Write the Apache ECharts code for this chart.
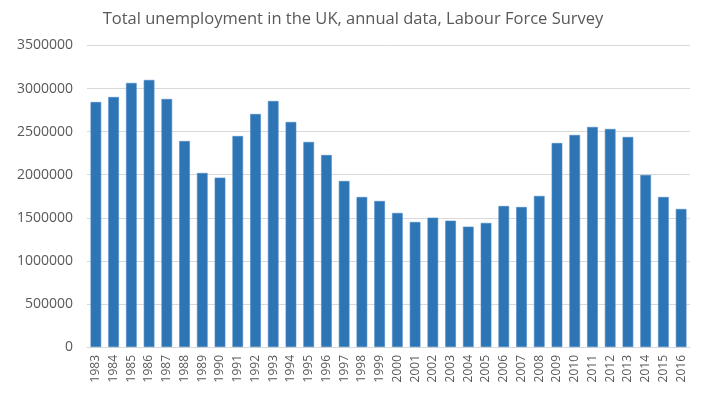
<!DOCTYPE html>
<html><head><meta charset="utf-8">
<script src="https://cdn.jsdelivr.net/npm/echarts@6/dist/echarts.min.js"></script>
<style>html,body{margin:0;padding:0;background:#fff}#c{width:706px;height:401px}</style>
</head><body><div id="c"></div>
<script>
var categories = ['1983','1984','1985','1986','1987','1988','1989','1990','1991','1992','1993','1994','1995','1996','1997','1998','1999','2000','2001','2002','2003','2004','2005','2006','2007','2008','2009','2010','2011','2012','2013','2014','2015','2016'];
var unemployment = [2844000,2902000,3065000,3100000,2879000,2391000,2020000,1966000,2449000,2705000,2856000,2612000,2380000,2229000,1927000,1741000,1695000,1556000,1451000,1501000,1466000,1397000,1440000,1637000,1625000,1753000,2368000,2461000,2554000,2531000,2438000,1997000,1741000,1602000];
var yTicks = [0,500000,1000000,1500000,2000000,2500000,3000000,3500000];

var chart = echarts.init(document.getElementById('c'));
chart.setOption({
  animation: false,
  title: {
    text: 'Total unemployment in the UK, annual data, Labour Force Survey',
    left: 'center', top: 6,
    textStyle: {fontFamily: 'Open Sans', fontSize: 16.5, fontWeight: 'normal', color: '#595959'}
  },
  grid: {left: 87, right: 16, top: 45.5, bottom: 54},
  xAxis: {
    type: 'category', data: categories,
    axisLine: {lineStyle: {color: '#d9d9d9'}},
    axisTick: {show: false},
    axisLabel: {rotate: 90, interval: 0, color: '#595959', fontFamily: 'Open Sans', fontSize: 12, margin: 8}
  },
  yAxis: {
    type: 'value', min: yTicks[0], max: yTicks[yTicks.length-1], interval: 500000,
    axisLine: {show: false}, axisTick: {show: false},
    splitLine: {lineStyle: {color: '#d9d9d9'}},
    axisLabel: {color: '#595959', fontFamily: 'Open Sans', fontSize: 14, margin: 14,
      formatter: function (v) { return String(v); }}
  },
  series: [{
    type: 'bar', data: unemployment, barCategoryGap: '40%',
    itemStyle: {color: '#2E75B6', borderColor: '#4a8ac6', borderWidth: 0.6}
  }]
});
</script></body></html>
